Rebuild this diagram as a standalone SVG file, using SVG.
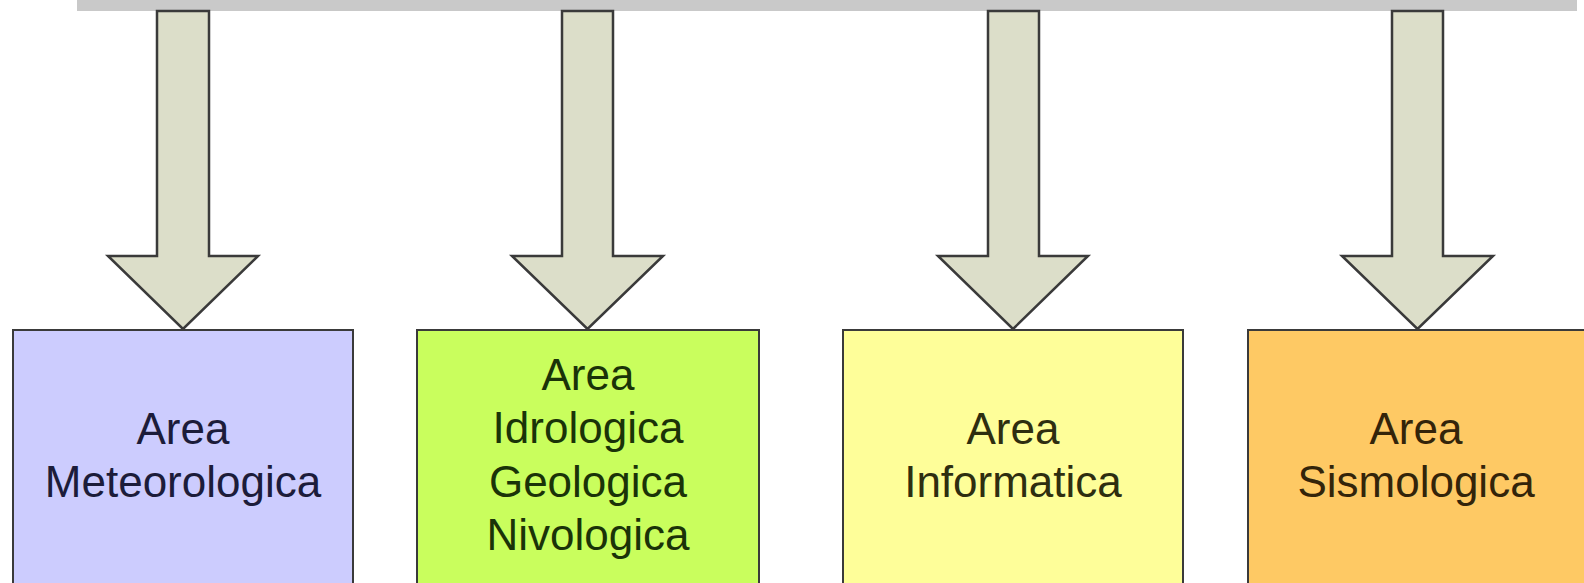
<svg xmlns="http://www.w3.org/2000/svg" width="1584" height="583" viewBox="0 0 1584 583">
<style>
.box{stroke:#3a3a3a;stroke-width:2}
.arrow{fill:#dcdec9;stroke:#3a3a3a;stroke-width:2.5;stroke-linejoin:miter}
.lbl{font-family:"Liberation Sans",Arial,sans-serif;font-size:44px;text-anchor:middle}
</style>
<rect x="0" y="0" width="1584" height="583" fill="#ffffff"/>
<rect id="topbar" x="77" y="0" width="1500" height="11" fill="#c9c9c9"/>
<g id="connectors">
<path class="arrow" d="M157,11 H209 V256 H258 L183,329 L108,256 H157 Z"/>
<path class="arrow" d="M562,11 H613 V256 H663 L587.5,329 L512,256 H562 Z"/>
<path class="arrow" d="M988,11 H1039 V256 H1088 L1013,329 L938,256 H988 Z"/>
<path class="arrow" d="M1392,11 H1443 V256 H1493 L1417.5,329 L1342,256 H1392 Z"/>
</g>
<g id="node-meteo">
<rect class="box" x="13" y="330" width="340" height="270" fill="#ccccfe"/>
<text class="lbl" fill="#1c1c3a" x="183" y="444">Area</text>
<text class="lbl" fill="#1c1c3a" x="183" y="497">Meteorologica</text>
</g>
<g id="node-idro">
<rect class="box" x="417" y="330" width="342" height="270" fill="#c9fe5d"/>
<text class="lbl" fill="#1a3308" x="588" y="390">Area</text>
<text class="lbl" fill="#1a3308" x="588" y="443">Idrologica</text>
<text class="lbl" fill="#1a3308" x="588" y="497">Geologica</text>
<text class="lbl" fill="#1a3308" x="588" y="550">Nivologica</text>
</g>
<g id="node-info">
<rect class="box" x="843" y="330" width="340" height="270" fill="#fefe99"/>
<text class="lbl" fill="#2e2e10" x="1013" y="444">Area</text>
<text class="lbl" fill="#2e2e10" x="1013" y="497">Informatica</text>
</g>
<g id="node-sismo">
<rect class="box" x="1248" y="330" width="345" height="270" fill="#fec964"/>
<text class="lbl" fill="#33240a" x="1416" y="444">Area</text>
<text class="lbl" fill="#33240a" x="1416" y="497">Sismologica</text>
</g>
</svg>
